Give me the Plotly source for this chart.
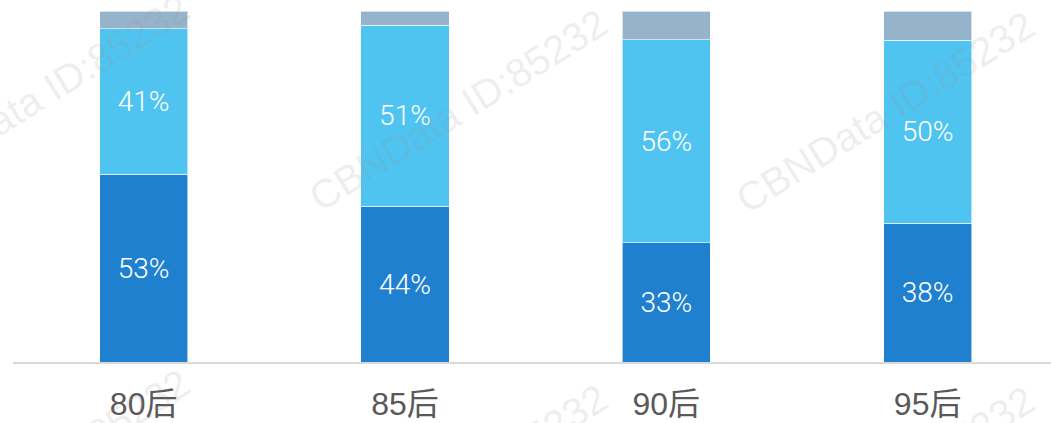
import plotly.graph_objects as go

categories = ["80后", "85后", "90后", "95后"]
series_bottom = [53, 44, 33, 38]
series_middle = [41, 51, 56, 50]
series_top = [5, 4, 8, 8]

colors = {"bottom": "#2080D0", "middle": "#50C4F0", "top": "#95B3CB"}
label_font = dict(family="Roboto, Lato, sans-serif", size=28, color="white", weight=300)

fig = go.Figure()
for name, vals, col, show in [("bottom", series_bottom, colors["bottom"], True),
                              ("middle", series_middle, colors["middle"], True),
                              ("top", series_top, colors["top"], False)]:
    fig.add_trace(go.Bar(
        x=categories, y=vals, name=name,
        marker=dict(color=col, line=dict(color="rgba(255,255,255,0.6)", width=1)),
        text=[f"{v}%" for v in vals] if show else None,
        textposition="inside" if show else "none",
        insidetextanchor="middle",
        textangle=0,
        textfont=label_font,
        hoverinfo="skip",
    ))

W, H = 1051, 423
ml, mr, mt, mb = 13, 0, 11, 61
pw, ph = W - ml - mr, H - mt - mb

# watermarks (pixel centres -> paper coords)
wm_centers = [(40, 95), (458, 110), (885, 112), (40, 470), (458, 485), (885, 487)]
for cx, cy in wm_centers:
    fig.add_annotation(
        x=(cx - ml) / pw, y=(H - mb - cy) / ph, xref="paper", yref="paper", showarrow=False,
        text="CBNData ID:85232", textangle=-32,
        font=dict(family="Liberation Sans, Arial, sans-serif", size=40, color="rgba(150,150,150,0.17)"),
        xanchor="center", yanchor="middle",
    )

fig.update_layout(
    width=W, height=H, autosize=False,
    margin=dict(l=ml, r=mr, t=mt, b=mb, pad=0),
    barmode="stack", barnorm="percent", bargap=0.663,
    plot_bgcolor="white", paper_bgcolor="white",
    showlegend=False, hovermode=False,
    uniformtext=dict(minsize=28, mode="show"),
    xaxis=dict(range=[-0.5, 3.472], showline=True, linecolor="#D9D9D9", linewidth=1.5,
               showgrid=False, zeroline=False, ticks="", ticklabelstandoff=13,
               tickfont=dict(family="Liberation Sans, Arial, Noto Sans CJK SC, sans-serif",
                             size=32, color="#595959")),
    yaxis=dict(range=[0, 100], visible=False, showgrid=False, zeroline=False),
)

fig.write_html("out.html", config={"displayModeBar": False},
               post_script="document.body.style.margin='0';document.body.style.padding='0';")
